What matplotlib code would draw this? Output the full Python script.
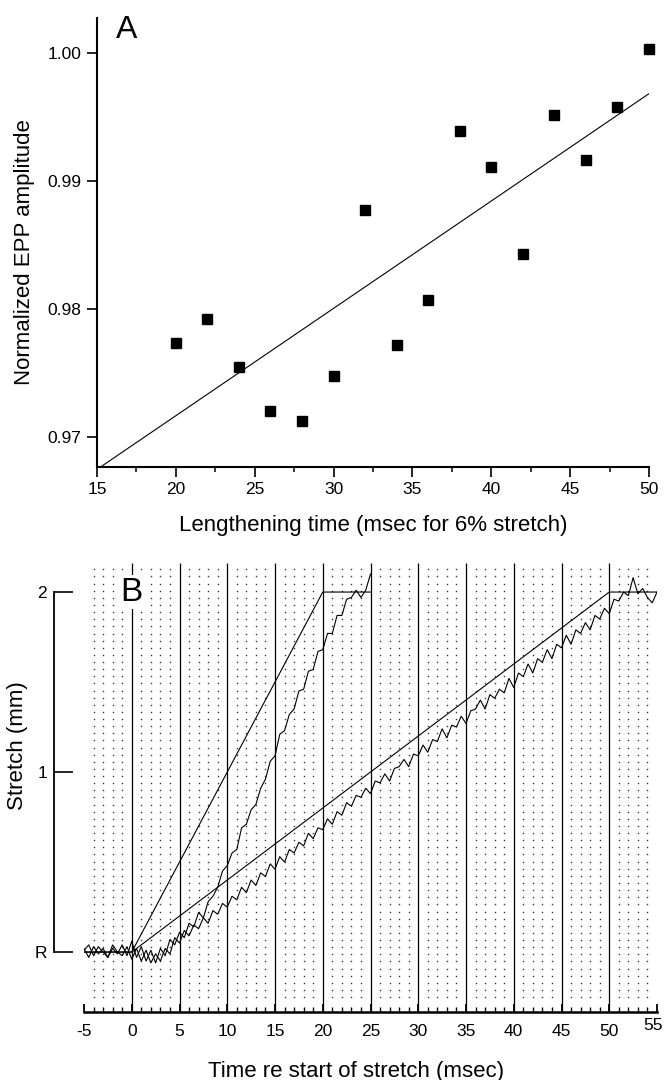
import matplotlib
matplotlib.use('Agg')
import matplotlib.pyplot as plt
import numpy as np
from matplotlib.ticker import MultipleLocator, FixedLocator, FixedFormatter

plt.rcParams['font.family'] = ['Liberation Sans', 'DejaVu Sans']
plt.rcParams['axes.unicode_minus'] = False

# ---- panel A data: normalized EPP amplitude vs lengthening time
len_time = [20, 22, 24, 26, 28, 30, 32, 34, 36, 38, 40, 42, 44, 46, 48, 50]
epp_amp = [0.9774, 0.9792, 0.9755, 0.9721, 0.9713, 0.9748, 0.9877, 0.9772,
           0.9807, 0.9939, 0.9911, 0.9843, 0.9951, 0.9916, 0.9958, 1.0003]

# ---- panel B data: stretch command ramps and measured stretch
fast_cmd_t = [-5, 0, 20, 25]
fast_cmd_v = [0, 0, 2, 2]
slow_cmd_t = [-5, 0, 50, 55]
slow_cmd_v = [0, 0, 2, 2]

fast_meas_t = np.arange(-5, 25.01, 0.5)
fast_meas_v = [0.01, 0.04, -0.02, 0.03, 0.00, -0.03, 0.02, -0.01, 0.04, -0.02,
               0.06, -0.03, 0.03, -0.05, 0.01, -0.06, 0.02, -0.02, 0.07, 0.04,
               0.11, 0.08, 0.16, 0.14, 0.22, 0.19, 0.28, 0.31, 0.36, 0.45,
               0.48, 0.55, 0.57, 0.69, 0.71, 0.79, 0.82, 0.91, 0.96, 1.06,
               1.09, 1.21, 1.23, 1.32, 1.35, 1.45, 1.46, 1.56, 1.57, 1.67,
               1.68, 1.77, 1.77, 1.87, 1.87, 1.96, 1.97, 2.01, 1.97, 2.01,
               2.10]

slow_meas_t = np.arange(-5, 55.01, 0.5)
slow_meas_v = [0.02, -0.03, 0.03, -0.01, 0.02, -0.03, 0.04, 0.00, -0.02, 0.03,
               -0.04, 0.02, -0.05, 0.01, -0.06, -0.01, -0.05, 0.02, -0.01, 0.08,
               0.05, 0.12, 0.09, 0.15, 0.13, 0.19, 0.16, 0.23, 0.21, 0.27,
               0.25, 0.31, 0.29, 0.36, 0.33, 0.40, 0.37, 0.44, 0.42, 0.49,
               0.46, 0.53, 0.50, 0.57, 0.55, 0.61, 0.59, 0.66, 0.63, 0.69,
               0.68, 0.74, 0.71, 0.78, 0.76, 0.83, 0.81,
               0.87, 0.86, 0.91, 0.88, 0.95, 0.94, 0.99, 0.95,
               1.02, 1.03, 1.07, 1.03, 1.10, 1.09, 1.15, 1.11,
               1.18, 1.17, 1.24, 1.19, 1.26, 1.25, 1.31, 1.27,
               1.34, 1.35, 1.40, 1.35, 1.43, 1.41, 1.46, 1.44,
               1.52, 1.47, 1.55, 1.53, 1.60, 1.55, 1.63, 1.61,
               1.68, 1.63, 1.71, 1.69, 1.76, 1.71, 1.79, 1.77,
               1.83, 1.79, 1.87, 1.85, 1.91, 1.88, 1.96, 1.95,
               2.00, 1.98, 2.08, 1.99, 2.02, 1.97, 1.94, 2.00]

W, H = 664, 1080
fig = plt.figure(figsize=(W / 100, H / 100), dpi=100)


def fx(px):
    return px / W


def fy(py):
    return 1 - py / H


# ---------------- panel A
axA = fig.add_axes([fx(97), fy(467), fx(649) - fx(97), fy(18) - fy(467)])
fit = np.polyfit(len_time, epp_amp, 1)
xx = np.array([15, 50])
axA.plot(xx, np.polyval(fit, xx), color='k', lw=0.8)
axA.plot(len_time, epp_amp, 's', ms=6.5, color='k', clip_on=False)
axA.set_xlim(15, 50)
axA.set_ylim(0.9677, 1.0027)
for s in ['top', 'right']:
    axA.spines[s].set_visible(False)
for s in ['left', 'bottom']:
    axA.spines[s].set_linewidth(1.5)
axA.xaxis.set_major_locator(MultipleLocator(5))
axA.xaxis.set_minor_locator(MultipleLocator(2.5))
axA.yaxis.set_major_locator(FixedLocator([0.97, 0.98, 0.99, 1.00]))
axA.yaxis.set_major_formatter(FixedFormatter(['0.97', '0.98', '0.99', '1.00']))
axA.tick_params(which='major', direction='out', length=7, width=1.2,
                labelsize=12.5, pad=4)
axA.tick_params(which='minor', direction='out', length=3.5, width=1.1)
fig.text(fx(127), fy(30), 'A', fontsize=23, ha='center', va='center')
fig.text(fx(25), fy(252), 'Normalized EPP amplitude', rotation=90,
         ha='center', va='center', fontsize=16)
fig.text(fx(373), fy(525), 'Lengthening time (msec for 6% stretch)',
         ha='center', va='center', fontsize=16)

# ---------------- panel B
axB = fig.add_axes([fx(84), fy(1012), fx(657) - fx(84), fy(560) - fy(1012)])
axB.set_xlim(-5, 55)
axB.set_ylim(-0.333, 2.178)

# dotted background grid
dot_t = [t for t in range(-4, 55) if t % 5 != 0]
dot_v = np.arange(-0.25, 2.15, 0.0396)
DT, DV = np.meshgrid(dot_t, dot_v)
axB.plot(DT.ravel(), DV.ravel(), 's', ms=1.0, mew=0, color='0.2', zorder=1)
axB.vlines(range(0, 55, 5), -0.333, 2.16, color='k', lw=0.9, zorder=2)

axB.plot(fast_cmd_t, fast_cmd_v, color='k', lw=0.8, zorder=3)
axB.plot(slow_cmd_t, slow_cmd_v, color='k', lw=0.8, zorder=3)
axB.plot(fast_meas_t, fast_meas_v, color='k', lw=0.8, zorder=3)
axB.plot(slow_meas_t, slow_meas_v, color='k', lw=0.8, zorder=3)

axB.text(0, 2.0, 'B', fontsize=24, ha='center', va='center', zorder=5,
         bbox=dict(facecolor='white', edgecolor='none', pad=1))

for s in ['top', 'right']:
    axB.spines[s].set_visible(False)
axB.spines['bottom'].set_linewidth(1.8)
axB.spines['left'].set_position(('outward', 21.6))
axB.spines['left'].set_bounds(0, 2)
axB.spines['left'].set_linewidth(1.3)

xt = list(range(-5, 56, 5))
xt_labels = [str(t) for t in xt]
xt_labels[-1] = ''   # the "55" sits raised at the right edge, drawn below
axB.xaxis.set_major_locator(FixedLocator(xt))
axB.xaxis.set_major_formatter(FixedFormatter(xt_labels))
axB.xaxis.set_minor_locator(MultipleLocator(1))
axB.tick_params(axis='x', which='major', direction='in', length=5.8,
                width=1.3, labelsize=12.5, pad=9)
axB.tick_params(axis='x', which='minor', direction='in', length=3.6, width=1.0)
axB.yaxis.set_major_locator(FixedLocator([0, 1, 2]))
axB.yaxis.set_major_formatter(FixedFormatter(['R', '1', '2']))
axB.tick_params(axis='y', direction='in', length=13.7, width=1.2,
                labelsize=12.5, pad=5)
fig.text(fx(653), fy(1026), str(xt[-1]), ha='center', va='center',
         fontsize=12.5)

fig.text(fx(17.5), fy(746), 'Stretch (mm)', rotation=90,
         ha='center', va='center', fontsize=16)
fig.text(fx(356), fy(1071), 'Time re start of stretch (msec)',
         ha='center', va='center', fontsize=16)

fig.savefig('out.png', dpi=100)
